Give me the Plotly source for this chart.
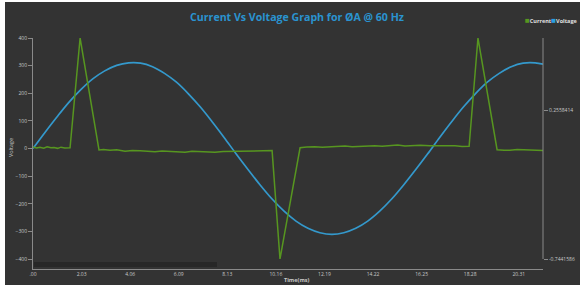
import plotly.graph_objects as go

# ---------------- data ----------------
time_v = [0.0, 0.5, 1.0, 1.5, 2.0, 2.5, 3.0, 3.5, 4.0, 4.5, 5.0, 5.5, 6.0, 6.5, 7.0, 7.5,
          8.0, 8.5, 9.0, 9.5, 10.0, 10.5, 11.0, 11.5, 12.0, 12.5, 13.0, 13.5, 14.0, 14.5,
          15.0, 15.5, 16.0, 16.5, 17.0, 17.5, 18.0, 18.5, 19.0, 19.5, 20.0, 20.5, 21.0, 21.33]
voltage = [0, 58, 114, 167, 213, 252, 281, 301, 310, 309, 296, 272, 240, 198, 150, 96,
           39, -20, -77, -132, -183, -227, -263, -289, -305, -311, -305, -289, -263, -227,
           -183, -132, -77, -20, 39, 96, 150, 198, 240, 272, 296, 309, 310, 305]

time_i = [0.0, 0.15, 0.29, 0.45, 0.59, 0.75, 0.88, 1.03, 1.17, 1.33, 1.55, 1.97, 2.76,
          2.95, 3.22, 3.5, 3.85, 4.15, 4.48, 4.8, 5.1, 5.4, 5.73, 6.05, 6.36, 6.65, 6.98,
          7.3, 7.61, 7.95, 8.24, 8.55, 8.87, 9.2, 9.58, 9.8, 10.0, 10.33, 11.17,
          11.45, 11.79, 12.1, 12.42, 12.75, 13.05, 13.35, 13.68, 14.0, 14.3, 14.6, 14.93,
          15.25, 15.56, 15.9, 16.19, 16.6, 17.02, 17.35, 17.65, 17.95, 18.24, 18.61, 19.41,
          19.7, 19.95, 20.25, 20.58, 20.95, 21.33]
current = [0.010, 0.004, 0.008, 0.002, 0.012, 0.005, 0.006, 0.001, 0.009, 0.004, 0.005, 0.744, -0.010,
           -0.006, -0.012, -0.009, -0.018, -0.013, -0.015, -0.020, -0.022, -0.017, -0.020, -0.024, -0.025,
           -0.019, -0.022, -0.027, -0.026, -0.021, -0.020, -0.016, -0.018, -0.013, -0.015, -0.011, -0.014,
           -0.744, 0.005, 0.010, 0.012, 0.008, 0.010, 0.015, 0.016, 0.012, 0.014, 0.019, 0.018, 0.015, 0.020,
           0.023, 0.017, 0.021, 0.022, 0.019, 0.020, 0.016, 0.018, 0.014, 0.015, 0.744, -0.008,
           -0.011, -0.012, -0.007, -0.010, -0.013, -0.014]

x_tickvals = [0.0, 2.0317, 4.0634, 6.0951, 8.1268, 10.1585, 12.1902, 14.2219, 16.2536, 18.2853, 20.317]
x_ticktext = [".00", "2.03", "4.06", "6.09", "8.13", "10.16", "12.19", "14.22", "16.25", "18.28", "20.31"]
y_tickvals = [400, 300, 200, 100, 0, -100, -200, -300, -400]
y2_tickvals = [0.2558414, -0.7441586]
y2_ticktext = ["0.2558414", "-0.7441586"]

# ---------------- styling ----------------
BG = "#333333"
GREEN = "#579620"
BLUE = "#3499cc"
AXIS = "#8a8a8a"
TICKC = "#c8c8c8"
W, H = 580, 285
L, R, T, B = 33, 37, 38, 16
pw, ph = W - L - R, H - T - B


def px_x(px):
    return (px - L) / pw


def px_y(py):
    return (H - B - py) / ph


fig = go.Figure()
fig.add_trace(go.Scatter(x=time_i, y=current, name="Current", mode="lines",
                         line=dict(color=GREEN, width=1.5), yaxis="y2", showlegend=False))
fig.add_trace(go.Scatter(x=time_v, y=voltage, name="Voltage", mode="lines",
                         line=dict(color=BLUE, width=1.7, shape="spline"), showlegend=False))

tickfont = dict(family="Open Sans", size=5, color=TICKC)

fig.update_layout(
    width=W, height=H,
    margin=dict(l=L, r=R, t=T, b=B, autoexpand=False),
    paper_bgcolor=BG, plot_bgcolor=BG,
    title=dict(text="<b>Current Vs Voltage Graph for ØA @ 60 Hz</b>",
               font=dict(family="Open Sans", size=10.6, color="#2a93d0"),
               x=297 / W, xanchor="center", y=1 - 17 / H, yanchor="middle"),
    xaxis=dict(range=[0, 21.33], tickvals=x_tickvals, ticktext=x_ticktext,
               showgrid=False, zeroline=False, showline=True, linecolor=AXIS, linewidth=1,
               ticks="", tickfont=tickfont, ticklabelstandoff=0),
    yaxis=dict(range=[-436.2, 400], tickvals=y_tickvals, showgrid=False, zeroline=False,
               showline=True, linecolor=AXIS, linewidth=1, ticks="outside", ticklen=4,
               tickcolor=AXIS, tickfont=tickfont),
    yaxis2=dict(range=[-0.8115, 0.7441586], overlaying="y", side="right",
                tickvals=y2_tickvals, ticktext=y2_ticktext, showgrid=False, zeroline=False,
                showline=False, ticks="outside", ticklen=4, tickcolor=AXIS, tickfont=tickfont),
    showlegend=False,
)

# decorations: white page edge, scroll bar, right axis line
shapes = [
    dict(type="rect", xref="paper", yref="paper", x0=px_x(0), x1=px_x(5), y0=px_y(H), y1=px_y(0),
         fillcolor="white", line=dict(width=0), layer="above"),
    dict(type="rect", xref="paper", yref="paper", x0=px_x(0), x1=px_x(W), y0=px_y(2), y1=px_y(0),
         fillcolor="white", line=dict(width=0), layer="above"),
    dict(type="rect", xref="paper", yref="paper", x0=px_x(34), x1=px_x(217), y0=px_y(267), y1=px_y(262),
         fillcolor="#272727", line=dict(width=0), layer="below"),
    dict(type="line", xref="paper", yref="y2", x0=1, x1=1, y0=-0.7441586, y1=0.7441586,
         line=dict(color=AXIS, width=1)),
]
fig.update_layout(shapes=shapes)

annotations = [
    dict(text="Voltage", textangle=-90, xref="paper", yref="paper", x=px_x(11), y=px_y(148),
         showarrow=False, font=dict(family="Open Sans", size=5.5, color=TICKC),
         xanchor="center", yanchor="middle"),
    dict(text="<b>Time(ms)</b>", xref="paper", yref="paper", x=px_x(297), y=px_y(280),
         showarrow=False, font=dict(family="Open Sans", size=5.5, color=TICKC),
         xanchor="center", yanchor="middle"),
    dict(text=f'<span style="color:{GREEN};font-size:8px">■</span><b>Current</b>'
              f'<span style="color:#2a9fe0;font-size:8px">■</span><b>Voltage</b>',
         xref="paper", yref="paper", x=px_x(579.5), y=px_y(20), showarrow=False,
         font=dict(family="Open Sans", size=5.5, color="#e0e0e0"),
         xanchor="right", yanchor="middle"),
]
fig.update_layout(annotations=annotations)

fig.write_html("out.html", config={"displayModeBar": False},
               post_script="document.body.style.margin='0';")
